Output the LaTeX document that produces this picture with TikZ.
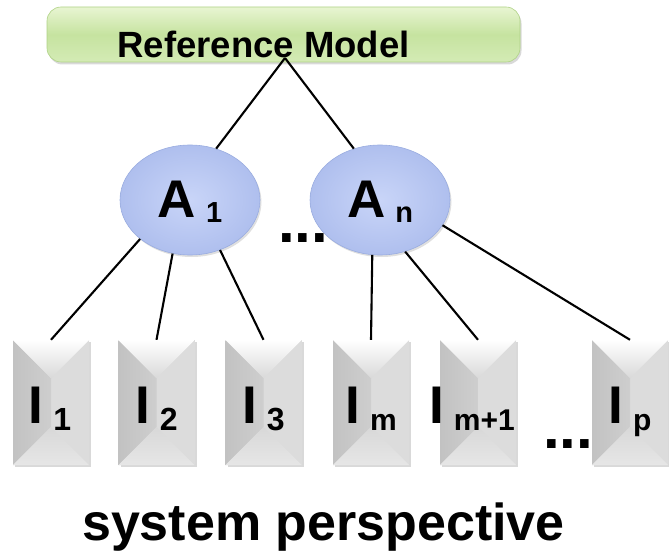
\documentclass[tikz,border=0pt]{standalone}
\usepackage{fontspec}
\setmainfont{Liberation Sans}
\usetikzlibrary{shapes.geometric,shadows,calc}
\definecolor{bartop}{HTML}{E8F5D2}
\definecolor{barmid}{HTML}{C6E3A0}
\definecolor{barbot}{HTML}{D4EBB5}
\definecolor{barrim}{HTML}{AFD286}
\definecolor{ellin}{HTML}{C9D5F8}
\definecolor{ellout}{HTML}{AFBFEE}
\definecolor{ellrim}{HTML}{9AADE0}
\definecolor{boxLa}{HTML}{C2C2C2}
\definecolor{boxLb}{HTML}{DADADA}
\definecolor{boxR}{HTML}{DCDCDC}
\definecolor{boxT}{HTML}{D9D9D9}
\definecolor{boxBa}{HTML}{D8D8D8}
\definecolor{boxBb}{HTML}{E6E6E6}
\begin{document}
\begin{tikzpicture}[x=1pt,y=-1pt,
  conn/.style={line width=2.1pt, black},
  refbar/.style={rectangle, rounded corners=14pt, minimum width=473pt, minimum height=55pt, inner sep=0pt,
    draw=barrim, line width=0.6pt, top color=bartop, bottom color=barbot, middle color=barmid,
    drop shadow={shadow xshift=1.5pt, shadow yshift=-2.5pt, opacity=0.3}},
  aell/.style={ellipse, minimum width=140pt, minimum height=110pt, inner sep=0pt,
    draw=ellrim, line width=0.6pt, inner color=ellin, outer color=ellout,
    drop shadow={shadow xshift=1.5pt, shadow yshift=-2pt, opacity=0.25}},
  ibox/.style={rectangle, minimum width=76pt, minimum height=125pt, inner sep=0pt, fill=boxR,
    drop shadow={shadow xshift=2pt, shadow yshift=-2pt, opacity=0.3},
    path picture={
      \fill[left color=boxLa, right color=boxLb]
        (path picture bounding box.north west)
        -- ($(path picture bounding box.north)+(0pt,-38pt)$)
        -- ($(path picture bounding box.south)+(0pt,38pt)$)
        -- (path picture bounding box.south west) -- cycle;
      \fill[top color=white, bottom color=boxT]
        (path picture bounding box.north west)
        -- (path picture bounding box.north east)
        -- ($(path picture bounding box.north)+(0pt,-38pt)$) -- cycle;
      \fill[top color=boxBa, bottom color=boxBb]
        (path picture bounding box.south west)
        -- (path picture bounding box.south east)
        -- ($(path picture bounding box.south)+(0pt,38pt)$) -- cycle;
    }},
  lab/.style={anchor=base, inner sep=0pt, font=\bfseries\fontsize{53}{60}\selectfont},
  dots/.style={anchor=base west, inner sep=0pt, font=\bfseries\fontsize{60}{60}\selectfont}
]
\useasboundingbox (0,0) rectangle (669,556);

% reference model bar
\node[refbar] (ref) at (283.5,34.5) {};
\node[anchor=base, inner sep=0pt, font=\bfseries\fontsize{36.5}{40}\selectfont] (reftext) at (263.5,58) {Reference Model};
\coordinate (apex) at (285,58);

% ellipses
\node[aell] (A1) at (190,200) {};
\node[aell] (An) at (380,200) {};
\node[lab] (A1lab) at ($(A1.center)+(0,18)$) {A\hspace{10pt}\raisebox{-5pt}{\bfseries\fontsize{29}{30}\selectfont 1}};
\node[lab] (Anlab) at ($(An.center)+(0,18)$) {A\hspace{10pt}\raisebox{-5pt}{\bfseries\fontsize{29}{30}\selectfont n}};
\node[dots] (dots1) at (278,242) {...};

% boxes
\node[ibox] (I1) at (51,402.5) {};
\node[ibox] (I2) at (156.5,402.5) {};
\node[ibox] (I3) at (263.5,402.5) {};
\node[ibox] (Im) at (371,402.5) {};
\node[ibox] (Imm) at (478,402.5) {};
\node[ibox] (Ip) at (630,402.5) {};
\node[lab] (I1lab) at ($(I1.center)+(-1,20.5)$) {I\hspace{10pt}\raisebox{-7pt}{\bfseries\fontsize{32}{34}\selectfont 1}};
\node[lab] (I2lab) at ($(I2.center)+(0,20.5)$) {I\hspace{10pt}\raisebox{-7pt}{\bfseries\fontsize{32}{34}\selectfont 2}};
\node[lab] (I3lab) at ($(I3.center)+(0,20.5)$) {I\hspace{10pt}\raisebox{-7pt}{\bfseries\fontsize{32}{34}\selectfont 3}};
\node[lab] (Imlab) at ($(Im.center)+(0,20.5)$) {I\hspace{10pt}\raisebox{-7pt}{\bfseries\fontsize{30}{32}\selectfont m}};
\node[lab] (Immlab) at ($(Imm.center)+(-6,20.5)$) {I\hspace{10pt}\raisebox{-7pt}{\bfseries\fontsize{30}{32}\selectfont m+1}};
\node[lab] (Iplab) at ($(Ip.center)+(0,20.5)$) {I\hspace{10pt}\raisebox{-7pt}{\bfseries\fontsize{30}{32}\selectfont p}};
\node[dots] (dots2) at (543,448) {...};

% connectors
\draw[conn] (apex) -- (A1.63);
\draw[conn] (apex) -- (An.117);
\draw[conn] (A1.218) -- (I1.north);
\draw[conn] (A1.252) -- (I2.north);
\draw[conn] (A1.301) -- (I3.north);
\draw[conn] (An.262) -- (Im.north);
\draw[conn] (An.296) -- (Imm.north);
\draw[conn] (An.338) -- (Ip.north);

% caption
\node[anchor=base, inner sep=0pt, font=\bfseries\fontsize{52}{56}\selectfont] (title) at (323.5,540) {system perspective};
\end{tikzpicture}
\end{document}
